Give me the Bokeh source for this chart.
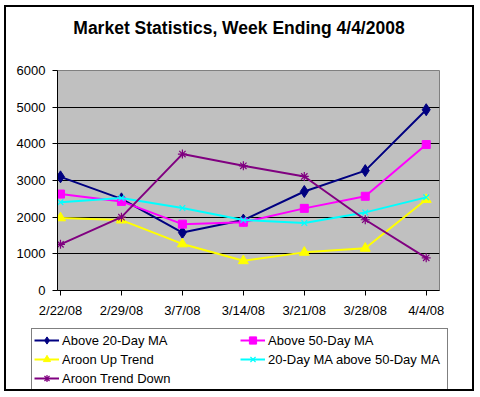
from bokeh.plotting import figure
from bokeh.layouts import column
from bokeh.models import FixedTicker, Range1d, Legend, LegendItem, Div
from bokeh.embed import file_html
from bokeh.resources import INLINE

title_text = "Market Statistics, Week Ending 4/4/2008"
dates = ["2/22/08", "2/29/08", "3/7/08", "3/14/08", "3/21/08", "3/28/08", "4/4/08"]
above_20 = [3100, 2500, 1580, 1920, 2700, 3270, 4930]
above_50 = [2630, 2430, 1810, 1860, 2240, 2570, 3980]
aroon_up = [1980, 1920, 1270, 810, 1040, 1150, 2480]
ma20_above_50 = [2410, 2520, 2250, 1920, 1840, 2130, 2540]
aroon_down = [1260, 2000, 3720, 3400, 3110, 1930, 890]
y_ticks = [0, 1000, 2000, 3000, 4000, 5000, 6000]

xs = list(range(len(dates)))
FONT = "Liberation Sans"
W = 466

title = Div(text=title_text, width=W, height=42,
            styles={"font-family": FONT, "font-size": "17.5px", "font-weight": "bold",
                    "text-align": "center", "line-height": "42px", "color": "black",
                    "margin": "0", "padding": "0"})

p = figure(width=W, height=276, output_backend="svg", toolbar_location=None,
           x_range=Range1d(-0.049, 6.218), y_range=Range1d(0, 6000),
           min_border_left=51, min_border_right=33, min_border_top=21, min_border_bottom=35)
p.title.visible = False
p.background_fill_color = "#C0C0C0"
p.border_fill_color = "white"
p.outline_line_color = "#808080"
p.outline_line_width = 1

p.xgrid.grid_line_color = None
p.ygrid.grid_line_color = "black"
p.ygrid.grid_line_width = 1
p.ygrid.ticker = FixedTicker(ticks=y_ticks)

p.xaxis.ticker = FixedTicker(ticks=xs)
p.xaxis.major_label_overrides = {i: d for i, d in enumerate(dates)}
p.yaxis.ticker = FixedTicker(ticks=y_ticks)
for ax in (p.xaxis, p.yaxis):
    ax.axis_line_color = "black"
    ax.major_tick_line_color = "black"
    ax.minor_tick_line_color = None
    ax.major_tick_in = 0
    ax.major_tick_out = 5
    ax.major_label_text_font = FONT
    ax.major_label_text_font_size = "13px"
    ax.major_label_text_color = "black"
p.xaxis.major_label_standoff = 7
p.yaxis.major_label_standoff = 7

series = [
    ("Above 20-Day MA", above_20, "#000080", "diamond", 12),
    ("Above 50-Day MA", above_50, "#FF00FF", "square", 8),
    ("Aroon Up Trend", aroon_up, "#FFFF00", "triangle", 10),
    ("20-Day MA above 50-Day MA", ma20_above_50, "#00FFFF", "x", 8),
    ("Aroon Trend Down", aroon_down, "#800080", "asterisk", 9),
]

# legend strip below the chart (its own renderers are outside its visible range)
p2 = figure(width=W, height=64, output_backend="svg", toolbar_location=None,
            x_range=Range1d(100, 101), y_range=Range1d(100, 101),
            x_axis_location=None, y_axis_location=None,
            min_border_left=25, min_border_right=23, min_border_top=3, min_border_bottom=0)
p2.title.visible = False
p2.grid.visible = False
p2.outline_line_color = None
p2.background_fill_color = "white"
p2.border_fill_color = "white"
for fig in (p, p2):
    try:
        fig.frame_align = False
    except Exception:
        pass

items = {}
for label, vals, color, marker, size in series:
    p.line(xs, vals, line_color=color, line_width=2)
    ln2 = p2.line(xs, vals, line_color=color, line_width=2)
    if marker in ("x", "asterisk"):
        p.scatter(xs, vals, marker=marker, size=size, line_color=color, line_width=1.2)
        sc2 = p2.scatter(xs, vals, marker=marker, size=size, line_color=color, line_width=1.2)
    else:
        p.scatter(xs, vals, marker=marker, size=size, fill_color=color, line_color=color)
        sc2 = p2.scatter(xs, vals, marker=marker, size=size, fill_color=color, line_color=color)
    items[label] = LegendItem(label=label, renderers=[ln2, sc2])

# column-major filling: first column, then second column
order = ["Above 20-Day MA", "Aroon Up Trend", "Aroon Trend Down",
         "Above 50-Day MA", "20-Day MA above 50-Day MA"]
legend = Legend(items=[items[k] for k in order], ncols=2, location="top_left",
                border_line_color="black", border_line_width=1,
                background_fill_color="white", background_fill_alpha=1,
                label_text_font=FONT, label_text_font_size="13px",
                label_text_color="black",
                glyph_width=25, glyph_height=18, label_height=18,
                label_standoff=3, spacing=1, padding=2, margin=0,
                label_width=177)
p2.add_layout(legend)

layout = column(title, p, p2, spacing=0)
layout.styles = {"margin-left": "6px", "margin-top": "7px",
                 "outline": "2px solid black", "outline-offset": "0px"}

open("out.html", "w").write(file_html(layout, INLINE))
